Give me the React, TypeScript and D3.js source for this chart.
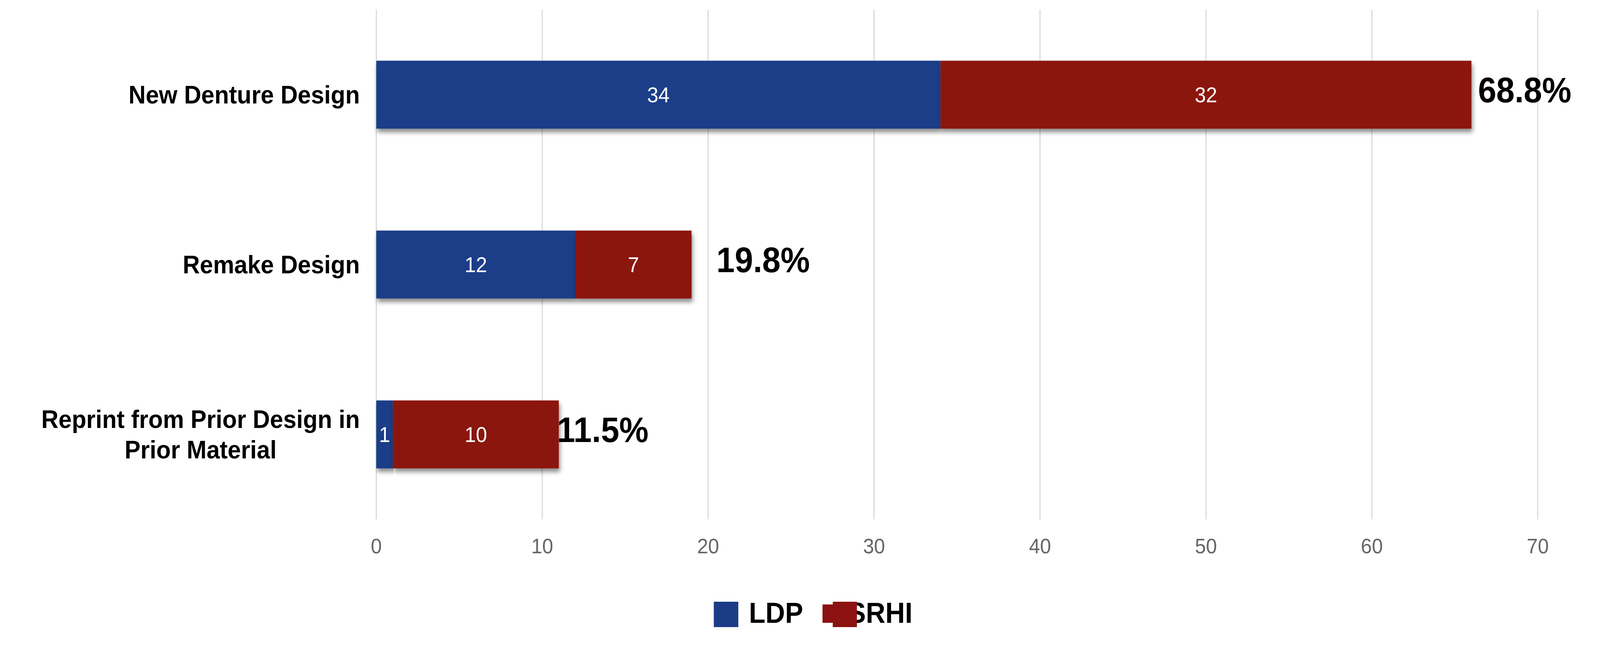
import { useEffect, useRef } from 'react';
import * as d3 from 'd3';

const categories = [
  'New Denture Design',
  'Remake Design',
  'Reprint from Prior Design in Prior Material',
];
const seriesNames = ['LDP', 'SRHI'];
const ldpValues = [34, 12, 1];
const srhiValues = [32, 7, 10];
const shareLabels = ['68.8%', '19.8%', '11.5%'];
const xTicks = [0, 10, 20, 30, 40, 50, 60, 70];

// hand-placed nudges of the share labels, as in the source picture
const shareNudge = [18, 68, -5];

const COLORS = ['#1c3c88', '#8b1210'];
const FONT = 'Arial, "Liberation Sans", Helvetica, sans-serif';

const WIDTH = 4371;
const HEIGHT = 1680;

export default function App() {
  const svgRef = useRef<SVGSVGElement>(null);

  useEffect(() => {
    if (!svgRef.current) return;
    const svg = d3.select(svgRef.current);
    svg.selectAll('*').remove();

    const plot = { left: 1028, right: 4201, top: 25, bottom: 1330 };

    const x = d3.scaleLinear().domain([0, 70]).range([plot.left, plot.right]);
    const y = d3.scaleBand()
      .domain(categories)
      .range([plot.top, plot.bottom])
      .paddingInner(0.6)
      .paddingOuter(0.3);

    const defs = svg.append('defs');
    defs.append('filter')
      .attr('id', 'bar-shadow')
      .attr('x', '-5%').attr('y', '-20%')
      .attr('width', '110%').attr('height', '150%')
      .append('feDropShadow')
      .attr('dx', 3)
      .attr('dy', 9)
      .attr('stdDeviation', 6)
      .attr('flood-color', '#000')
      .attr('flood-opacity', 0.45);

    // vertical gridlines
    svg.append('g')
      .selectAll('line')
      .data(xTicks)
      .join('line')
      .attr('x1', d => x(d)).attr('x2', d => x(d))
      .attr('y1', plot.top).attr('y2', plot.bottom)
      .attr('stroke', '#d8d8d8')
      .attr('stroke-width', 3);

    // x tick labels
    svg.append('g')
      .selectAll('text')
      .data(xTicks)
      .join('text')
      .attr('x', d => x(d))
      .attr('y', 1417)
      .attr('text-anchor', 'middle')
      .attr('font-family', FONT)
      .attr('font-size', 54)
      .attr('fill', '#666')
      .text(d => d);

    // stacked bars
    const rows = categories.map((c, i) => ({ key: c, LDP: ldpValues[i], SRHI: srhiValues[i] }));
    const stacked = d3.stack<any>().keys(seriesNames)(rows);

    stacked.forEach((layer, si) => {
      svg.append('g')
        .selectAll('rect')
        .data(layer)
        .join('rect')
        .attr('x', d => x(d[0]))
        .attr('y', d => y(d.data.key) ?? 0)
        .attr('width', d => x(d[1]) - x(d[0]))
        .attr('height', y.bandwidth())
        .attr('fill', COLORS[si])
        .attr('filter', 'url(#bar-shadow)');
    });

    // values inside segments
    stacked.forEach(layer => {
      svg.append('g')
        .selectAll('text')
        .data(layer)
        .join('text')
        .attr('x', d => (x(d[0]) + x(d[1])) / 2)
        .attr('y', d => (y(d.data.key) ?? 0) + y.bandwidth() / 2 + 20)
        .attr('text-anchor', 'middle')
        .attr('font-family', FONT)
        .attr('font-size', 55)
        .attr('fill', '#fff')
        .text(d => d[1] - d[0]);
    });

    // share labels at bar ends
    svg.append('g')
      .selectAll('text')
      .data(categories)
      .join('text')
      .attr('x', (d, i) => x(ldpValues[i] + srhiValues[i]) + shareNudge[i])
      .attr('y', d => (y(d) ?? 0) + y.bandwidth() / 2 + 20)
      .attr('font-family', FONT)
      .attr('font-size', 90)
      .attr('font-weight', 'bold')
      .attr('fill', '#000')
      .text((d, i) => shareLabels[i]);

    // category labels, wrapped and centred on each other
    const labelRight = 983;
    const maxLabelWidth = 900;
    categories.forEach(cat => {
      const cy = (y(cat) ?? 0) + y.bandwidth() / 2;
      const t = svg.append('text')
        .attr('font-family', FONT)
        .attr('font-size', 65)
        .attr('font-weight', 'bold')
        .attr('fill', '#000')
        .attr('text-anchor', 'middle');
      const words = cat.split(' ');
      const lines: string[] = [];
      let cur = '';
      const probe = t.append('tspan');
      words.forEach(w => {
        const test = cur ? cur + ' ' + w : w;
        probe.text(test);
        if ((probe.node() as SVGTextContentElement).getComputedTextLength() > maxLabelWidth && cur) {
          lines.push(cur);
          cur = w;
        } else {
          cur = test;
        }
      });
      lines.push(cur);
      let widest = 0;
      lines.forEach(l => {
        probe.text(l);
        widest = Math.max(widest, (probe.node() as SVGTextContentElement).getComputedTextLength());
      });
      probe.remove();
      const lineGap = 78;
      const firstBase = cy + 23 - ((lines.length - 1) * lineGap) / 2;
      lines.forEach((l, li) => {
        t.append('tspan')
          .attr('x', labelRight - widest / 2)
          .attr('y', firstBase + li * lineGap)
          .text(l);
      });
    });

    // legend
    const legend = svg.append('g').attr('font-family', FONT).attr('font-size', 74).attr('font-weight', 'bold');
    legend.append('rect')
      .attr('x', 1950).attr('y', 1541).attr('width', 67).attr('height', 65)
      .attr('fill', COLORS[0]);
    legend.append('text')
      .attr('x', 2046).attr('y', 1595)
      .attr('fill', '#000')
      .text(seriesNames[0]);
    legend.append('text')
      .attr('x', 2316).attr('y', 1595)
      .attr('fill', '#000')
      .text(seriesNames[1]);
    legend.append('rect')
      .attr('x', 2247).attr('y', 1548).attr('width', 30).attr('height', 47)
      .attr('fill', COLORS[1]);
    legend.append('rect')
      .attr('x', 2275).attr('y', 1541).attr('width', 66).attr('height', 65)
      .attr('fill', COLORS[1]);
  }, []);

  return (
    <svg
      ref={svgRef}
      viewBox={`0 0 ${WIDTH} ${HEIGHT}`}
      preserveAspectRatio="none"
      style={{ position: 'fixed', left: 0, top: 0, width: '100vw', height: '100vh', background: '#fff' }}
    />
  );
}
